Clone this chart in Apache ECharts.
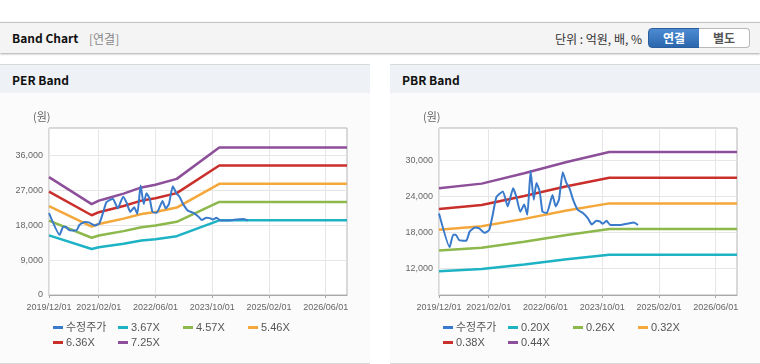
<!DOCTYPE html>
<html><head><meta charset="utf-8">
<script src="https://cdn.jsdelivr.net/npm/echarts@6/dist/echarts.min.js"></script>
<style>
html,body{margin:0;padding:0;background:#fff;width:760px;height:364px;overflow:hidden;font-family:'Noto Sans CJK KR','Liberation Sans',sans-serif;}
#topbar{position:absolute;left:0;top:22px;width:760px;height:30px;background:#f4f4f4;border-top:1px solid #c2c2c2;box-shadow:0 1px 2px rgba(0,0,0,0.35);}
#topbar .t{position:absolute;left:12px;top:6px;font-size:12px;font-weight:bold;color:#111;}
#topbar .s{position:absolute;left:89px;top:7px;font-size:12px;color:#888;}
#topbar .u{position:absolute;right:118px;top:7px;font-size:12px;color:#333;}
.btn{position:absolute;top:5px;height:18px;line-height:18px;font-size:12px;font-weight:bold;text-align:center;}
#b1{left:648px;width:50px;background:linear-gradient(#4c8bd2,#2c67ad);color:#fff;border:1px solid #2a5e9c;border-radius:4px 0 0 4px;}
#b2{left:699px;width:50px;background:#fff;color:#555;border:1px solid #b8b8b8;border-left:none;border-radius:0 4px 4px 0;}
.panel{position:absolute;top:64px;width:370px;height:298px;background:#fbfbfb;border-top:1px solid #d8d8d8;border-bottom:1px solid #d8d8d8;}
.panel .h{position:absolute;left:0;top:0;width:370px;height:28px;background:#eef2f7;}
.panel .h span{position:absolute;left:12px;top:6px;font-size:12px;font-weight:bold;color:#111;}
.chart{position:absolute;left:0;top:28px;width:370px;height:269px;}
</style></head>
<body>
<div id="topbar"><span class="t">Band Chart</span><span class="s">[연결]</span><span class="u">단위 : 억원, 배, %</span>
<div class="btn" id="b1">연결</div><div class="btn" id="b2">별도</div></div>
<div class="panel" style="left:0"><div class="h"><span>PER Band</span></div><div class="chart" id="c1"></div></div>
<div class="panel" style="left:390px"><div class="h"><span>PBR Band</span></div><div class="chart" id="c2"></div></div>
<script>
// ---- data ----
const xTickLabels = ['2019/12/01','2021/02/01','2022/06/01','2023/10/01','2025/02/01','2026/06/01'];
const axisStart = '2019/12/01';
const axisEnd = '2026/12/01';

const priceName = '수정주가';
const priceDates = ['2019/12/01','2020/03/01','2020/04/01','2020/04/22','2020/05/22','2020/07/22','2020/08/20','2020/10/04','2020/11/07','2020/12/28',
 '2021/02/04','2021/03/07','2021/04/07','2021/06/01','2021/07/13','2021/08/28','2021/09/25','2021/10/28','2021/12/01','2021/12/28',
 '2022/01/25','2022/02/21','2022/03/16','2022/04/13','2022/05/07','2022/06/13','2022/08/01','2022/08/28','2022/09/25','2022/10/28',
 '2022/11/28','2022/12/25','2023/01/25','2023/03/07','2023/04/19','2023/06/01','2023/07/04','2023/08/13','2023/09/10','2023/10/07',
 '2023/11/07','2023/12/10','2024/02/28','2024/05/22','2024/06/28','2024/08/04'];
const priceValues = [21100,15500,17600,17600,16700,16600,18100,18800,18700,17900,
 18400,21000,23900,24800,22300,25300,23900,21400,22600,20900,
 28200,23400,26200,24800,21400,21200,24200,22300,23400,28000,
 26200,25300,23400,21700,21200,20300,19300,19900,19800,19400,
 19900,19200,19200,19500,19600,19200];

const perNames = ['3.67X','4.57X','5.46X','6.36X','7.25X'];
const perBandDates = ['2019/12/01','2020/12/01','2021/02/01','2021/04/01','2021/09/01','2022/02/01','2022/06/01','2022/12/01','2023/12/01','2026/12/01'];
const per367 = [15360,11850,12300,12560,13210,14020,14380,15140,19230,19230];
const per457 = [19130,14750,15320,15630,16450,17460,17900,18850,23950,23950];
const per546 = [22860,17630,18300,18680,19660,20860,21390,22520,28620,28620];
const per636 = [26620,20530,21320,21760,22900,24300,24910,26230,33330,33330];
const per725 = [30350,23400,24300,24800,26100,27700,28400,29900,38000,38000];
const perYTicks = [0,9000,18000,27000,36000];

const pbrNames = ['0.20X','0.26X','0.32X','0.38X','0.44X'];
const pbrBandDates = ['2019/12/01','2020/12/01','2021/12/01','2022/12/01','2023/12/01','2026/12/01'];
const pbr020 = [11510,11860,12640,13500,14250,14250];
const pbr026 = [14970,15420,16430,17550,18530,18530];
const pbr032 = [18420,18980,20220,21600,22800,22800];
const pbr038 = [21880,22530,24020,25650,27080,27080];
const pbr044 = [25330,26090,27810,29700,31350,31350];
const pbrYTicks = [12000,18000,24000,30000];

const colors = ['#3a7acb','#1db3c5','#8cb84c','#f4a73a','#c9302c','#8d4f9a'];

// ---- build ----
function monthCats(){
  const out=[]; let y=2019,m=12;
  while(y<2026 || (y===2026 && m<=12)){ out.push(y+'/'+String(m).padStart(2,'0')+'/01'); m++; if(m>12){m=1;y++;} }
  return out;
}
const cats = monthCats();
const tickFn = (idx, val) => xTickLabels.indexOf(val) >= 0;
const FONT = "'Liberation Sans','Noto Sans CJK KR',sans-serif";

function build(el, names, bandDates, bands, yMin, yMax, yTicks){
  const chart = echarts.init(document.getElementById(el), null, {renderer:'canvas'});
  const series = [{
    name: priceName, type:'line', xAxisIndex:1, showSymbol:false, z:5,
    smooth:0.15, lineStyle:{width:2,color:colors[0]}, itemStyle:{color:colors[0]},
    data: priceDates.map((d,i)=>[d, priceValues[i]])
  }];
  bands.forEach((b,k)=>{
    series.push({name:names[k], type:'line', xAxisIndex:1, showSymbol:false, z:3,
      lineStyle:{width:2.5,color:colors[k+1]}, itemStyle:{color:colors[k+1]},
      data: bandDates.map((d,i)=>[d,b[i]])});
  });
  const allNames = [priceName].concat(names);
  const legPos = [[53,229],[118,229],[183,229],[248,229],[53,244],[118,244]];
  const legends = allNames.map((n,i)=>({
    data:[n], left:legPos[i][0], top:legPos[i][1], padding:0, itemGap:0,
    itemWidth:10, itemHeight:3, icon:'rect', selectedMode:false,
    textStyle:{fontSize:11, color:'#555', fontFamily:FONT, padding:[0,0,0,-2]}
  }));
  chart.setOption({
    animation:false,
    grid:{left:49, top:35, width:298, height:167, show:true, backgroundColor:'#fff', borderColor:'#b4b4b4', borderWidth:1},
    graphic:[{type:'text', left:33, top:18, style:{text:'(원)', fill:'#666', font:"11px 'Noto Sans CJK KR'"}}],
    legend: legends,
    xAxis:[
      {type:'category', data:cats, boundaryGap:false,
       axisLine:{lineStyle:{color:'#a8a8a8'}},
       axisTick:{show:true, length:3, interval:tickFn, lineStyle:{color:'#a8a8a8'}},
       axisLabel:{interval:tickFn, color:'#666', fontSize:9, fontFamily:FONT, margin:8, hideOverlap:false},
       splitLine:{show:true, interval:tickFn, lineStyle:{color:'#e6e6e6'}}},
      {type:'time', show:false, min:new Date(axisStart).getTime(), max:new Date(axisEnd).getTime()}
    ],
    yAxis:{type:'value', min:yMin, max:yMax,
      axisLine:{show:false},
      axisTick:{show:false, customValues:yTicks},
      axisLabel:{customValues:yTicks, color:'#666', fontSize:9, fontFamily:FONT, margin:6,
        formatter:v=>Number(v).toLocaleString('en-US')},
      splitLine:{show:true, lineStyle:{color:'#e6e6e6'}}},
    series: series
  });
}
build('c1', perNames, perBandDates, [per367,per457,per546,per636,per725], 0, 43000, perYTicks);
build('c2', pbrNames, pbrBandDates, [pbr020,pbr026,pbr032,pbr038,pbr044], 7550, 35350, pbrYTicks);
</script>
</body></html>
